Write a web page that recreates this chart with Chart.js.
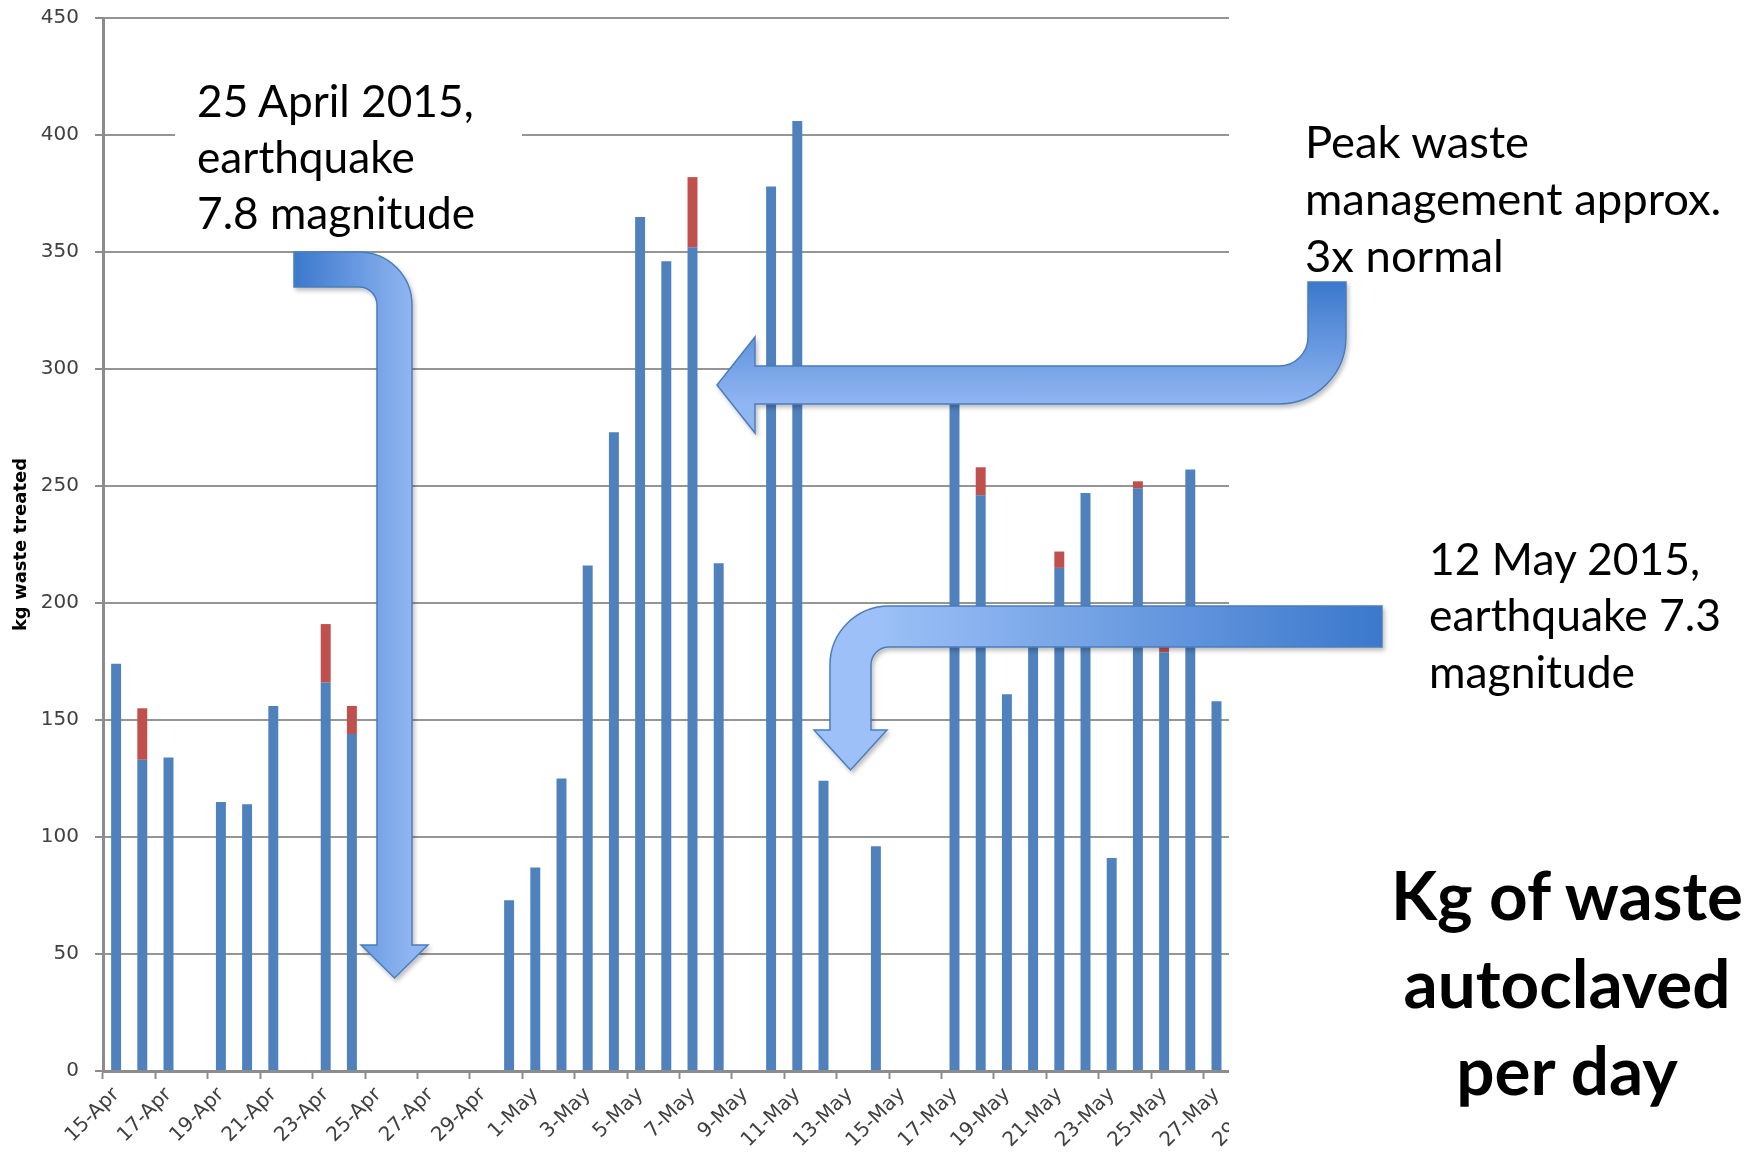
<!DOCTYPE html>
<html>
<head>
<meta charset="utf-8">
<title>Kg of waste autoclaved per day</title>
<script src="https://cdn.jsdelivr.net/npm/chart.js@4.4.1/dist/chart.umd.min.js"></script>
<style>
  html, body { margin: 0; padding: 0; background: #ffffff; }
  body { width: 1764px; height: 1159px; position: relative; overflow: hidden; }
  /* the chart picture in the slide is cropped just after 27-May */
  #plotClip { position: absolute; left: 0; top: 0; width: 1229px; height: 1159px; overflow: hidden; }
  #wasteChart { position: absolute; left: 0; top: 0; }
  #notes { position: absolute; left: 0; top: 0; }
</style>
</head>
<body>
<div id="plotClip">
  <canvas id="wasteChart" width="1290" height="1159"></canvas>
</div>
<svg id="notes" width="1764" height="1159" xmlns="http://www.w3.org/2000/svg">
  <defs>
    <linearGradient id="gradQuake1" gradientUnits="userSpaceOnUse" x1="294" y1="0" x2="412" y2="0">
      <stop offset="0" stop-color="#3b78cc"/>
      <stop offset="1" stop-color="#90b6f2"/>
    </linearGradient>
    <linearGradient id="gradPeak" gradientUnits="userSpaceOnUse" x1="0" y1="282" x2="0" y2="404">
      <stop offset="0" stop-color="#3b78cc"/>
      <stop offset="1" stop-color="#90b6f2"/>
    </linearGradient>
    <linearGradient id="gradQuake2" gradientUnits="userSpaceOnUse" x1="1382" y1="0" x2="880" y2="0">
      <stop offset="0" stop-color="#3b78cc"/>
      <stop offset="1" stop-color="#9cc0f7"/>
    </linearGradient>
    <filter id="shade" x="-10%" y="-10%" width="130%" height="130%">
      <feDropShadow dx="2" dy="3" stdDeviation="2" flood-color="#000" flood-opacity="0.25"/>
    </filter>
  </defs>
  <rect x="175" y="70" width="347" height="181" fill="#ffffff"/>
  <g id="noteText"></g>
  <g stroke="#4a7ebb" stroke-width="1.5" filter="url(#shade)">
    <path fill="url(#gradQuake1)" d="M294,252 L359,252 A53,53 0 0 1 412,305 L412,945 L428,945 L394.5,978 L361,945 L377,945 L377,305 A18,18 0 0 0 359,287 L294,287 Z"/>
    <path fill="url(#gradPeak)" d="M1308,282 L1346,282 L1346,337 A67,67 0 0 1 1279,404 L755,404 L755,433 L717,385 L755,337 L755,366 L1279,366 A29,29 0 0 0 1308,337 Z"/>
    <path fill="url(#gradQuake2)" d="M1382,606 L889,606 A59,59 0 0 0 830,665 L830,730 L814,730 L850.5,770 L887,730 L871,730 L871,665 A18,18 0 0 1 889,647 L1382,647 Z"/>
  </g>
</svg>
<script>
// days on the category axis (the last two fall outside the cropped picture)
const dayLabels = [
  '15-Apr', '16-Apr', '17-Apr', '18-Apr', '19-Apr', '20-Apr', '21-Apr', '22-Apr',
  '23-Apr', '24-Apr', '25-Apr', '26-Apr', '27-Apr', '28-Apr', '29-Apr', '30-Apr',
  '1-May', '2-May', '3-May', '4-May', '5-May', '6-May', '7-May', '8-May',
  '9-May', '10-May', '11-May', '12-May', '13-May', '14-May', '15-May', '16-May',
  '17-May', '18-May', '19-May', '20-May', '21-May', '22-May', '23-May', '24-May',
  '25-May', '26-May', '27-May', '28-May', '29-May'
];

// blue part of each bar, kg
const treatedKg = [
  174, 133, 134, null, 115, 114, 156, null,
  166, 144, null, null, null, null, null, 73,
  87, 125, 216, 273, 365, 346, 352, 217,
  null, 378, 406, 124, null, 96, null, null,
  292, 246, 161, 190, 215, 247, 91, 249,
  179, 257, 158, null, null
];

// red part stacked on top, kg
const extraKg = [
  null, 22, null, null, null, null, null, null,
  25, 12, null, null, null, null, null, null,
  null, null, null, null, null, null, 30, null,
  null, null, null, null, null, null, null, null,
  null, 12, null, null, 7, null, null, 3,
  7, null, null, null, null
];

const yTicks = { min: 0, max: 450, step: 50 };

const axisGray = '#8c8c8c';
const tickFont = { family: 'DejaVu Sans', size: 20 };

new Chart(document.getElementById('wasteChart'), {
  type: 'bar',
  data: {
    labels: dayLabels,
    datasets: [
      {
        label: 'Waste treated',
        data: treatedKg,
        backgroundColor: '#4f81bd',
        barPercentage: 0.38,
        categoryPercentage: 1
      },
      {
        label: 'Additional',
        data: extraKg,
        backgroundColor: '#c0504d',
        barPercentage: 0.38,
        categoryPercentage: 1
      }
    ]
  },
  options: {
    responsive: false,
    animation: false,
    layout: { padding: { top: 18, right: 8, left: 0, bottom: 0 } },
    plugins: {
      legend: { display: false },
      tooltip: { enabled: false }
    },
    scales: {
      x: {
        stacked: true,
        grid: {
          offset: true,
          drawOnChartArea: false,
          drawTicks: true,
          tickLength: 8,
          tickWidth: 2,
          tickColor: ctx => (ctx.index % 2 === 0 ? axisGray : 'rgba(0,0,0,0)')
        },
        border: { color: axisGray, width: 3 },
        ticks: {
          autoSkip: false,
          minRotation: 45,
          maxRotation: 45,
          padding: 4,
          color: '#404040',
          font: tickFont,
          callback: (value, i) => (i % 2 === 0 ? dayLabels[i] : '')
        },
        afterFit: scale => { scale.height = 88; }
      },
      y: {
        stacked: true,
        min: yTicks.min,
        max: yTicks.max,
        ticks: {
          stepSize: yTicks.step,
          padding: 16,
          color: '#404040',
          font: tickFont
        },
        grid: {
          color: '#959595',
          lineWidth: 2,
          tickLength: 8,
          tickColor: axisGray
        },
        border: { color: axisGray, width: 3 },
        title: {
          display: true,
          text: 'kg waste treated',
          color: '#000000',
          font: { family: 'DejaVu Sans', size: 18, weight: 'bold' },
          padding: { top: 11, bottom: 0 }
        },
        afterFit: scale => {
          scale.width = 103;
          // keep the 450 line at the very top, as in the picture
          scale.paddingTop = 0;
          scale.paddingBottom = 0;
        }
      }
    }
  }
});

// slide annotations: lines, left/centre x, baselines, target width of the widest line
const noteBlocks = [
  { lines: ['25 April 2015,', 'earthquake', '7.8 magnitude'], x: 197, baselines: [117, 173, 229], width: 278, weight: 400, anchor: 'start' },
  { lines: ['Peak waste', 'management approx.', '3x normal'], x: 1305, baselines: [158, 215, 272], width: 416, weight: 400, anchor: 'start' },
  { lines: ['12 May 2015,', 'earthquake 7.3', 'magnitude'], x: 1429, baselines: [575, 631, 688], width: 292, weight: 400, anchor: 'start' },
  { lines: ['Kg of waste', 'autoclaved', 'per day'], x: 1567, baselines: [920, 1008, 1095], width: 352, weight: 700, anchor: 'middle' }
];

const svgNS = 'http://www.w3.org/2000/svg';
const noteGroup = document.getElementById('noteText');
noteBlocks.forEach(block => {
  const items = block.lines.map((line, i) => {
    const t = document.createElementNS(svgNS, 'text');
    t.textContent = line;
    t.setAttribute('x', block.x);
    t.setAttribute('y', block.baselines[i]);
    t.setAttribute('text-anchor', block.anchor);
    t.setAttribute('font-family', 'Lato, "Open Sans", sans-serif');
    t.setAttribute('font-weight', block.weight);
    t.setAttribute('font-size', 100);
    t.setAttribute('fill', '#000000');
    noteGroup.appendChild(t);
    return t;
  });
  const widest = Math.max(...items.map(t => t.getComputedTextLength()));
  const size = 100 * block.width / widest;
  items.forEach(t => t.setAttribute('font-size', size.toFixed(1)));
});
</script>
</body>
</html>
